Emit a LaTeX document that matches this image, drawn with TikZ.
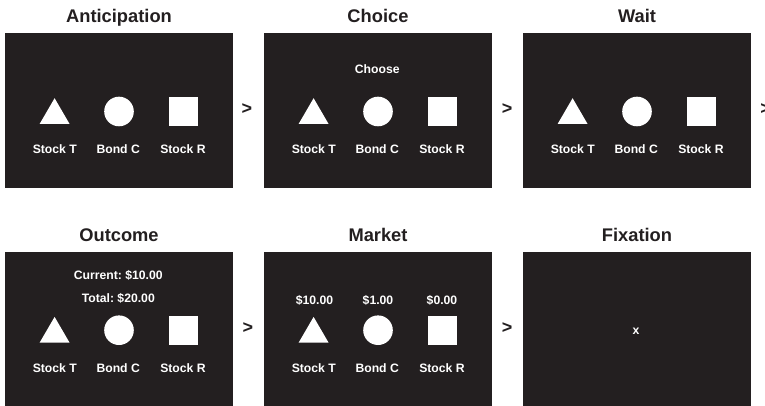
\documentclass[tikz,border=0pt]{standalone}
\usepackage{fontspec}
\setmainfont{Liberation Sans}
\frenchspacing
\definecolor{ink}{HTML}{231F20}
\tikzset{
  panel/.style={fill=ink,draw=none,minimum width=228pt,minimum height=154.4pt,inner sep=0pt,outer sep=0pt},
  title/.style={text=ink,font=\fontsize{18.3pt}{20pt}\selectfont\bfseries,inner sep=0pt,anchor=base},
  lab/.style={text=white,font=\fontsize{12.2pt}{14pt}\selectfont\bfseries,inner sep=0pt,anchor=base},
  gt/.style={text=ink,font=\fontsize{18pt}{20pt}\selectfont\bfseries,inner sep=0pt,anchor=base},
  sym/.style={fill=white,draw=none}
}
% #1 name, #2 x of panel left, #3 y of panel top, #4 title
\newcommand{\panelbox}[4]{%
  \node[panel,anchor=north west] (#1) at (#2,#3) {};
  \node[title] (#1t) at ([yshift=10.9pt]#1.north) {#4};
}
% #1 name, #2 dx, #3 dy: three shapes with labels
\newcommand{\trio}[3]{%
  \begin{scope}[shift={(#2,#3)}]
    \fill[sym] (54.6,98.2) -- (69.6,124) -- (39.6,124) -- cycle;
    \node[sym,circle,minimum size=29.6pt,inner sep=0pt] (#1c) at (119,111.5) {};
    \node[sym,rectangle,minimum size=29.4pt,inner sep=0pt] (#1s) at (183.7,111.5) {};
    \node[lab] (#1a) at (54.8,153.3) {Stock T};
    \node[lab] (#1b) at (118.2,153.3) {Bond C};
    \node[lab] (#1d) at (183,153.3) {Stock R};
  \end{scope}
}
\begin{document}
\begin{tikzpicture}[x=1pt,y=-1pt]
\useasboundingbox (0,0) rectangle (765,406);
\begin{scope}
\clip (0,0) rectangle (765,406);
\panelbox{p1}{5}{33.4}{Anticipation}
\panelbox{p2}{264}{33.4}{Choice}
\panelbox{p3}{523}{33.4}{Wait}
\panelbox{p4}{5}{252.1}{Outcome}
\panelbox{p5}{264}{252.1}{Market}
\panelbox{p6}{523}{252.1}{Fixation}
\trio{a}{0}{0}
\trio{b}{259}{0}
\trio{c}{518}{0}
\trio{d}{0}{218.7}
\trio{e}{259}{218.7}
\node[lab] (choose) at (377.3,73.4) {Choose};
\node[lab] (cur) at (118.3,279.5) {Current: \$10.00};
\node[lab] (tot) at (118.3,302) {Total: \$20.00};
\node[lab] (m1) at (314.5,304) {\$10.00};
\node[lab] (m2) at (378,304) {\$1.00};
\node[lab] (m3) at (442,304) {\$0.00};
\node[lab] (fx) at (636,334) {x};
\node[gt] (g1) at (247,114.5) {>};
\node[gt] (g2) at (507,114.5) {>};
\node[gt] (g3) at (765.5,114.5) {>};
\node[gt] (g4) at (248,333.5) {>};
\node[gt] (g5) at (507,333.5) {>};
\end{scope}
\end{tikzpicture}
\end{document}
